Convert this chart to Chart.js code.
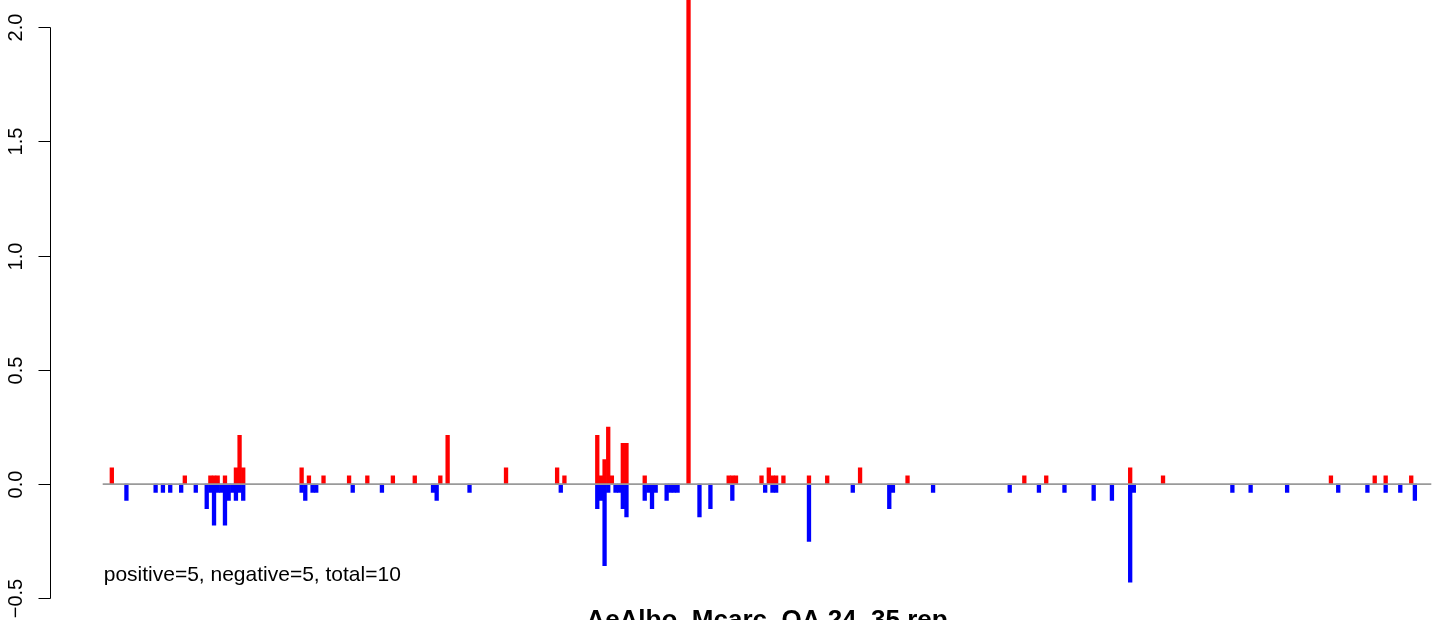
<!DOCTYPE html>
<html>
<head>
<meta charset="utf-8">
<script src="https://cdn.jsdelivr.net/npm/chart.js@4.4.0/dist/chart.umd.min.js"></script>
<style>
html,body{margin:0;padding:0;background:#fff;}
#wrap{width:1433px;height:620px;position:relative;}
</style>
</head>
<body>
<div id="wrap"><canvas id="c" width="1433" height="620"></canvas></div>
<script>
// ---- data ----
const nBins = 364;
const posBins = [2,22,29,30,31,33,36,37,38,54,56,60,67,72,79,85,92,94,110,124,126,135,136,137,138,139,142,143,148,160,171,172,173,180,182,183,184,186,193,198,207,220,252,258,281,290,336,348,351,358];
const posValues = [0.071,0.036,0.036,0.036,0.036,0.036,0.071,0.214,0.071,0.071,0.036,0.036,0.036,0.036,0.036,0.036,0.036,0.214,0.071,0.071,0.036,0.214,0.036,0.107,0.25,0.036,0.179,0.179,0.036,2.5,0.036,0.036,0.036,0.036,0.071,0.036,0.036,0.036,0.036,0.036,0.071,0.036,0.036,0.036,0.071,0.036,0.036,0.036,0.036,0.036];
const negBins = [6,14,16,18,21,25,28,29,30,31,32,33,34,35,36,37,38,54,55,57,58,68,76,90,91,100,125,135,136,137,138,140,141,142,143,148,149,150,151,154,155,156,157,163,166,172,181,183,184,193,205,215,216,227,248,256,263,271,276,281,282,309,314,324,338,346,351,355,359];
const negValues = [-0.071,-0.036,-0.036,-0.036,-0.036,-0.036,-0.107,-0.036,-0.179,-0.036,-0.036,-0.179,-0.071,-0.036,-0.071,-0.036,-0.071,-0.036,-0.071,-0.036,-0.036,-0.036,-0.036,-0.036,-0.071,-0.036,-0.036,-0.107,-0.071,-0.357,-0.036,-0.036,-0.036,-0.107,-0.143,-0.071,-0.036,-0.107,-0.036,-0.071,-0.036,-0.036,-0.036,-0.143,-0.107,-0.071,-0.036,-0.036,-0.036,-0.25,-0.036,-0.107,-0.036,-0.036,-0.036,-0.036,-0.036,-0.071,-0.071,-0.429,-0.036,-0.036,-0.036,-0.036,-0.036,-0.036,-0.036,-0.036,-0.071];
const yTickValues = [-0.5, 0.0, 0.5, 1.0, 1.5, 2.0];
const yTickLabels = ["\u22120.5", "0.0", "0.5", "1.0", "1.5", "2.0"];
const summaryText = "positive=5, negative=5, total=10";
const titleText = "AeAlbo_Mcarc_OA 24_35 rep";

// ---- build ----
const labels = Array.from({length: nBins}, (_, i) => String(i));
const posData = new Array(nBins).fill(null);
const negData = new Array(nBins).fill(null);
posBins.forEach((b, i) => { posData[b] = posValues[i]; });
negBins.forEach((b, i) => { negData[b] = negValues[i]; });

const FONT = '"Liberation Sans", Arial, Helvetica, sans-serif';

const decor = {
  id: 'decor',
  afterDatasetsDraw(chart) {
    const ctx = chart.ctx;
    const ya = chart.scales.y;
    const ca = chart.chartArea;
    ctx.save();
    // zero line
    const y0 = ya.getPixelForValue(0);
    ctx.strokeStyle = '#9a9a9a';
    ctx.lineWidth = 1.6;
    ctx.beginPath();
    ctx.moveTo(ca.left, y0);
    ctx.lineTo(ca.right, y0);
    ctx.stroke();
    // y axis
    const ax = 50.5;
    ctx.strokeStyle = '#000';
    ctx.lineWidth = 1;
    ctx.beginPath();
    ctx.moveTo(ax, Math.round(ya.getPixelForValue(yTickValues[0])) + 0.5);
    ctx.lineTo(ax, Math.round(ya.getPixelForValue(yTickValues[yTickValues.length - 1])) + 0.5);
    ctx.stroke();
    ctx.fillStyle = '#000';
    ctx.font = '20px ' + FONT;
    ctx.textAlign = 'center';
    ctx.textBaseline = 'alphabetic';
    yTickValues.forEach((v, i) => {
      const py = Math.round(ya.getPixelForValue(v)) + 0.5;
      ctx.beginPath();
      ctx.moveTo(ax - 12, py);
      ctx.lineTo(ax, py);
      ctx.stroke();
      ctx.save();
      ctx.translate(22, py);
      ctx.rotate(-Math.PI / 2);
      ctx.fillText(yTickLabels[i], 0, 0);
      ctx.restore();
    });
    // summary text
    ctx.font = '21px ' + FONT;
    ctx.textAlign = 'left';
    ctx.fillText(summaryText, ca.left + 1, 581);
    // title
    ctx.font = 'bold 26px ' + FONT;
    ctx.textAlign = 'center';
    ctx.fillText(titleText, (ca.left + ca.right) / 2, 628);
    ctx.restore();
  }
};

new Chart(document.getElementById('c'), {
  type: 'bar',
  data: {
    labels: labels,
    datasets: [
      { data: posData, backgroundColor: '#ff0000', stack: 's', barPercentage: 1, categoryPercentage: 1, borderWidth: 0 },
      { data: negData, backgroundColor: '#0000ff', stack: 's', barPercentage: 1, categoryPercentage: 1, borderWidth: 0 }
    ]
  },
  options: {
    responsive: false,
    animation: false,
    devicePixelRatio: 1,
    layout: { padding: { left: 102.7, right: 1.7, top: 0, bottom: 14.7 } },
    scales: {
      x: { display: false, stacked: true, grid: { display: false } },
      y: { display: false, stacked: true, min: -0.53, max: 2.118, grid: { display: false } }
    },
    plugins: { legend: { display: false }, tooltip: { enabled: false }, title: { display: false } }
  },
  plugins: [decor]
});
</script>
</body>
</html>
